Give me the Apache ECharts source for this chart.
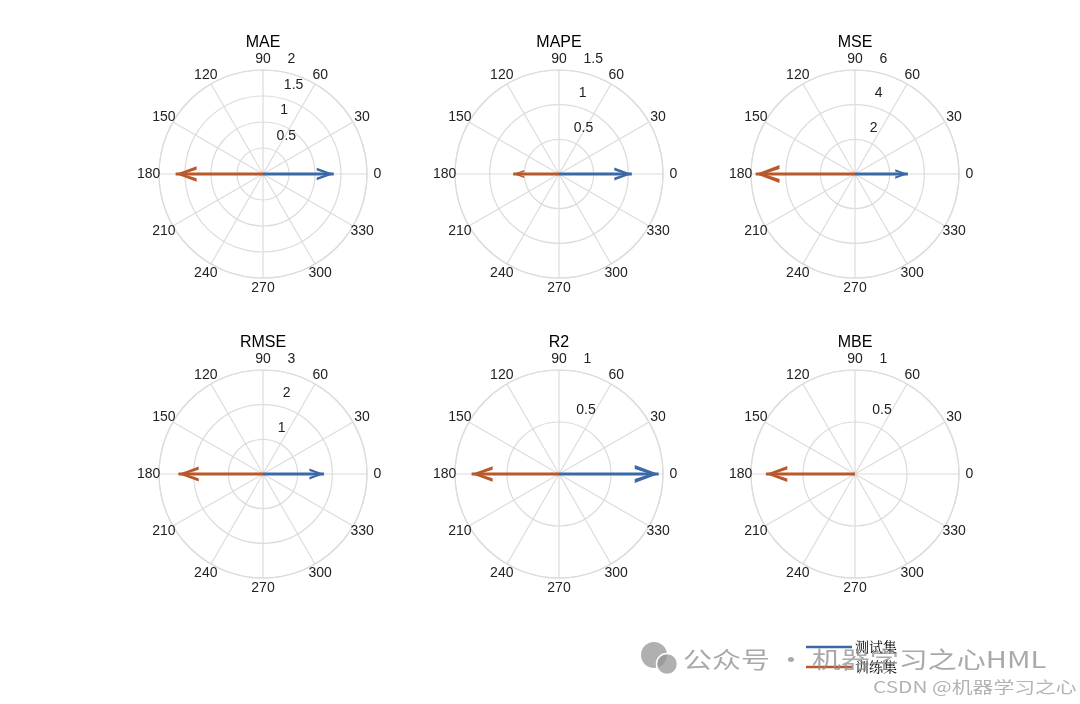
<!DOCTYPE html>
<html>
<head>
<meta charset="utf-8">
<script src="https://cdn.jsdelivr.net/npm/echarts@6/dist/echarts.min.js"></script>
<style>html,body{margin:0;padding:0;background:#fff;}#chart{width:1080px;height:704px;}</style>
</head>
<body>
<div id="chart"></div>
<script>
// ---- data ----
const metrics = ['MAE', 'MAPE', 'MSE', 'RMSE', 'R2', 'MBE'];
const testValues = [1.36, 1.05, 3.05, 1.76, 0.958, 0.005];   // 测试集 (arrow at 0°)
const trainValues = [1.68, 0.66, 5.73, 2.44, 0.84, 0.857];   // 训练集 (arrow at 180°)
const radiusMax = [2, 1.5, 6, 3, 1, 1];
const radiusStep = [0.5, 0.5, 2, 1, 0.5, 0.5];
const radialTicks = [
  [0.5, 1, 1.5, 2],
  [0.5, 1, 1.5],
  [2, 4, 6],
  [1, 2, 3],
  [0.5, 1],
  [0.5, 1]
];
const angleTicks = [0, 30, 60, 90, 120, 150, 180, 210, 240, 270, 300, 330];
const seriesNames = ['测试集', '训练集'];
const seriesAngles = [0, 180];

// ---- layout / style ----
const colX = [263, 559, 855];
const rowY = [174, 474];
const R = 104;
const angleLabelFactor = 1.1;   // angle labels sit at 1.1 x outer radius (MATLAB style)
const radialLabelAngle = 82;
const colors = ['#3b68a6', '#b9592b'];
const gridColor = '#dcdcdc';
const textColor = '#222222';
const font = "'Liberation Sans', Arial, Helvetica, sans-serif";
const arrowRight = 'path://M0,0 L17,6 L0,12 L0,9.3 L11,6 L0,2.7 Z';
const arrowLeft = 'path://M17,0 L0,6 L17,12 L17,9.3 L6,6 L17,2.7 Z';

const chart = echarts.init(document.getElementById('chart'));
const polar = [], angleAxis = [], radiusAxis = [], title = [], series = [];

metrics.forEach((m, i) => {
  const cx = colX[i % 3], cy = rowY[Math.floor(i / 3)];
  polar.push({ center: [cx, cy], radius: R });
  angleAxis.push({
    polarIndex: i, type: 'value', min: 0, max: 360, interval: 30,
    startAngle: 0, clockwise: false,
    axisLine: { show: true, lineStyle: { color: gridColor, width: 1.2 } },
    axisTick: { show: false },
    axisLabel: { show: false },
    splitLine: { show: true, lineStyle: { color: gridColor, width: 1.2 } }
  });
  radiusAxis.push({
    polarIndex: i, type: 'value', min: 0, max: radiusMax[i], interval: radiusStep[i],
    axisLine: { show: false }, axisTick: { show: false }, axisLabel: { show: false },
    splitLine: { show: true, lineStyle: { color: gridColor, width: 1.2 } }
  });
  title.push({
    text: m, left: cx, top: cy - 139, textAlign: 'center', padding: 0,
    textStyle: { fontSize: 16, fontWeight: 'normal', color: '#000', fontFamily: font }
  });
  // angle tick labels (centred, MATLAB style)
  series.push({
    type: 'scatter', coordinateSystem: 'polar', polarIndex: i, silent: true, clip: false,
    symbolSize: 0, animation: false, itemStyle: { opacity: 1 },
    data: angleTicks.map(a => [radiusMax[i] * angleLabelFactor, a]),
    label: { show: true, position: 'inside', color: textColor, fontSize: 14, fontFamily: font,
      formatter: p => String(p.value[1]) }
  });
  // radial tick labels
  series.push({
    type: 'scatter', coordinateSystem: 'polar', polarIndex: i, silent: true, clip: false,
    symbolSize: 0, animation: false, itemStyle: { opacity: 1 },
    data: radialTicks[i].map(t => [t, radialLabelAngle]),
    label: { show: true, position: 'right', distance: 10, offset: [0, -12],
      color: textColor, fontSize: 14, fontFamily: font,
      formatter: p => String(p.value[0]) }
  });
  // arrows
  [testValues[i], trainValues[i]].forEach((v, k) => {
    const L = v / radiusMax[i] * R;
    const hl = 0.24 * L, hw = 0.18 * L;
    series.push({
      name: seriesNames[k], type: 'line', coordinateSystem: 'polar', polarIndex: i,
      silent: true, animation: false,
      lineStyle: { color: colors[k], width: 2.8 },
      itemStyle: { color: colors[k] },
      data: [
        { value: [0, seriesAngles[k]], symbol: 'none' },
        { value: [v, seriesAngles[k]], symbol: k === 0 ? arrowRight : arrowLeft,
          symbolSize: [hl, hw], symbolKeepAspect: false,
          symbolOffset: [k === 0 ? -hl / 2 : hl / 2, 0] }
      ]
    });
  });
});

chart.setOption({
  backgroundColor: '#fff',
  animation: false,
  title, polar, angleAxis, radiusAxis, series,
  legend: {
    data: seriesNames, orient: 'vertical', left: 806, top: 640, padding: 0,
    icon: 'rect', itemWidth: 46, itemHeight: 2.5, itemGap: 6,
    textStyle: { fontFamily: "'Noto Serif CJK SC', 'Noto Sans CJK SC', serif", fontSize: 14, color: '#000', padding: [0, 0, 0, -2] },
    selectedMode: false
  },
  graphic: [
    { type: 'circle', shape: { cx: 654, cy: 655, r: 13 }, style: { fill: 'rgba(150,150,150,0.75)' }, z: 100 },
    { type: 'circle', shape: { cx: 667, cy: 664, r: 10.5 }, style: { fill: 'rgba(150,150,150,0.75)', stroke: '#fff', lineWidth: 1.5 }, z: 100 },
    { type: 'text', x: 683, y: 648, scaleX: 1.26, z: 100,
      style: { text: '公众号 · 机器学习之心HML', fontSize: 23, fill: 'rgba(140,140,140,0.75)', fontFamily: 'Noto Sans CJK SC' } },
    { type: 'text', x: 873, y: 679, scaleX: 1.3, z: 100,
      style: { text: 'CSDN @机器学习之心', fontSize: 16, fill: 'rgba(160,160,160,0.8)', fontFamily: 'Noto Sans CJK SC' } }
  ]
});
</script>
</body>
</html>
